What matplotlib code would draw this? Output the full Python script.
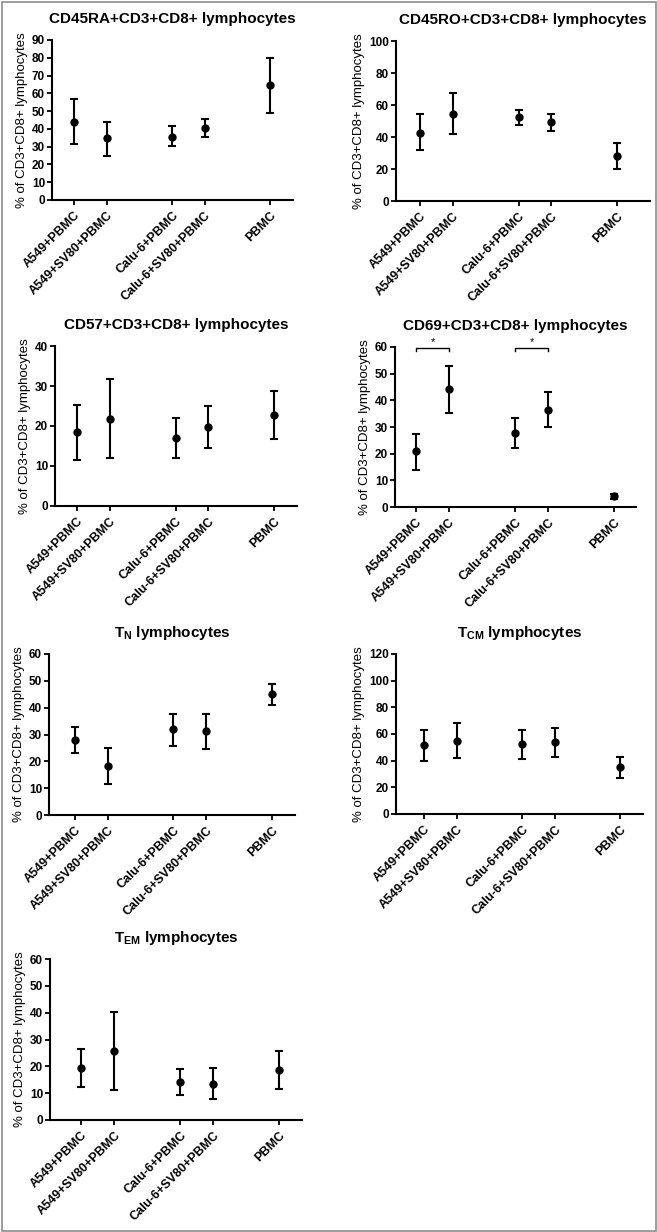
import numpy as np
import matplotlib
matplotlib.use("Agg")
import matplotlib.pyplot as plt
from matplotlib.patches import Rectangle

plt.rcParams['font.family'] = ['Liberation Sans', 'DejaVu Sans']
plt.rcParams['mathtext.fontset'] = 'custom'
plt.rcParams['mathtext.bf'] = 'Liberation Sans:bold'
plt.rcParams['mathtext.rm'] = 'Liberation Sans'

# ---------------- DATA ----------------
groups = ["A549+PBMC", "A549+SV80+PBMC", "Calu-6+PBMC", "Calu-6+SV80+PBMC", "PBMC"]
xpos = [0, 1, 3, 4, 6]

titles = [
    "CD45RA+CD3+CD8+ lymphocytes",
    "CD45RO+CD3+CD8+ lymphocytes",
    "CD57+CD3+CD8+ lymphocytes",
    "CD69+CD3+CD8+ lymphocytes",
    r"T$_\mathbf{N}$ lymphocytes",
    r"T$_\mathbf{CM}$ lymphocytes",
    r"T$_\mathbf{EM}$ lymphocytes",
]

cd45ra_mean = [44.1, 34.7, 35.6, 40.3, 64.5]
cd45ra_hi = [56.6, 44.1, 41.6, 45.6, 80.1]
cd45ra_lo = [31.5, 24.9, 30.4, 35.3, 49.1]

cd45ro_mean = [42.8, 54.3, 52.2, 49.3, 28.1]
cd45ro_hi = [54.3, 67.2, 56.8, 54.3, 36.0]
cd45ro_lo = [31.8, 41.6, 47.8, 43.9, 20.2]

cd57_mean = [18.4, 21.7, 17.0, 19.7, 22.7]
cd57_hi = [25.2, 31.7, 22.0, 24.9, 28.8]
cd57_lo = [11.6, 11.9, 12.1, 14.6, 16.7]

cd69_mean = [20.9, 44.1, 27.9, 36.4, 4.0]
cd69_hi = [27.5, 52.9, 33.5, 43.1, 5.0]
cd69_lo = [14.0, 35.3, 22.3, 29.9, 3.0]

tn_mean = [28.0, 18.3, 31.9, 31.3, 45.0]
tn_hi = [32.9, 25.1, 37.8, 37.6, 48.9]
tn_lo = [23.0, 11.6, 25.7, 24.7, 40.9]

tcm_mean = [51.6, 55.1, 52.4, 54.1, 34.9]
tcm_hi = [63.1, 68.6, 63.1, 64.6, 43.1]
tcm_lo = [40.1, 41.9, 41.1, 43.1, 26.7]

tem_mean = [19.4, 25.6, 14.2, 13.4, 18.5]
tem_hi = [26.6, 40.1, 18.9, 19.2, 25.8]
tem_lo = [12.2, 11.0, 9.3, 7.8, 11.6]

means = [cd45ra_mean, cd45ro_mean, cd57_mean, cd69_mean, tn_mean, tcm_mean, tem_mean]
highs = [cd45ra_hi, cd45ro_hi, cd57_hi, cd69_hi, tn_hi, tcm_hi, tem_hi]
lows = [cd45ra_lo, cd45ro_lo, cd57_lo, cd69_lo, tn_lo, tcm_lo, tem_lo]

ymax = [90, 100, 40, 60, 60, 120, 60]
ystep = [10, 20, 10, 10, 10, 20, 10]

# significance bars for CD69 panel: (x1, x2, y)
sig_pairs = [(0, 1, 59.7), (3, 4, 59.7)]

# ---------------- LAYOUT (pixels: left, right, top, bottom) ----------------
W, H = 657, 1232
boxes = [
    (52, 293, 40, 200),
    (396, 650, 41, 201),
    (55, 297, 346, 506),
    (395, 636, 347, 507),
    (49, 295, 654, 815),
    (396, 643, 654, 814),
    (50, 302, 959, 1120),
]
xlefts = [-0.67, -0.73, -0.67, -0.64, -0.79, -0.86, -0.95]
xrights = [6.7, 7.0, 6.7, 6.67, 6.7, 6.7, 6.7]

fig = plt.figure(figsize=(W / 100, H / 100), dpi=100)

for i in range(7):
    l, r, t, b = boxes[i]
    ax = fig.add_axes([l / W, 1 - b / H, (r - l) / W, (b - t) / H])
    m = np.array(means[i])
    hi = np.array(highs[i])
    lo = np.array(lows[i])
    ax.errorbar(xpos, m, yerr=[m - lo, hi - m], fmt='o', color='black',
                markersize=5, elinewidth=1.5, capsize=3, capthick=1.5)
    ax.set_xlim(xlefts[i], xrights[i])
    ax.set_ylim(0, ymax[i])
    ax.set_yticks(np.arange(0, ymax[i] + 1, ystep[i]))
    ax.set_xticks(xpos)
    ax.set_xticklabels(groups, rotation=45, ha='right', rotation_mode='anchor',
                       fontsize=9, fontweight='bold')
    for lab in ax.get_yticklabels():
        lab.set_fontweight('bold')
        lab.set_fontsize(8.5)
    ax.spines['top'].set_visible(False)
    ax.spines['right'].set_visible(False)
    ax.spines['left'].set_linewidth(1.5)
    ax.spines['bottom'].set_linewidth(1.5)
    ax.tick_params(width=1.3, length=3.5, pad=1.5)
    ax.tick_params(axis='x', pad=3)
    ax.set_ylabel("% of CD3+CD8+ lymphocytes", fontsize=9.5, labelpad=3)
    ax.set_title(titles[i], fontsize=11, fontweight='bold', pad=12)

    if i == 3:
        for x1, x2, y in sig_pairs:
            ax.plot([x1, x1, x2, x2], [y - 1.2, y, y, y - 1.2], color='black', lw=1.0,
                    clip_on=False)
            ax.text((x1 + x2) / 2, y + 0.3, "*", ha='center', va='bottom', fontsize=8)

# outer grey frame
fig.add_artist(Rectangle((1.5 / W, 1.5 / H), (W - 3) / W, (H - 3) / H,
                         transform=fig.transFigure, fill=False,
                         edgecolor='#8c8c8c', lw=1.2))

fig.savefig("out.png", dpi=100)
